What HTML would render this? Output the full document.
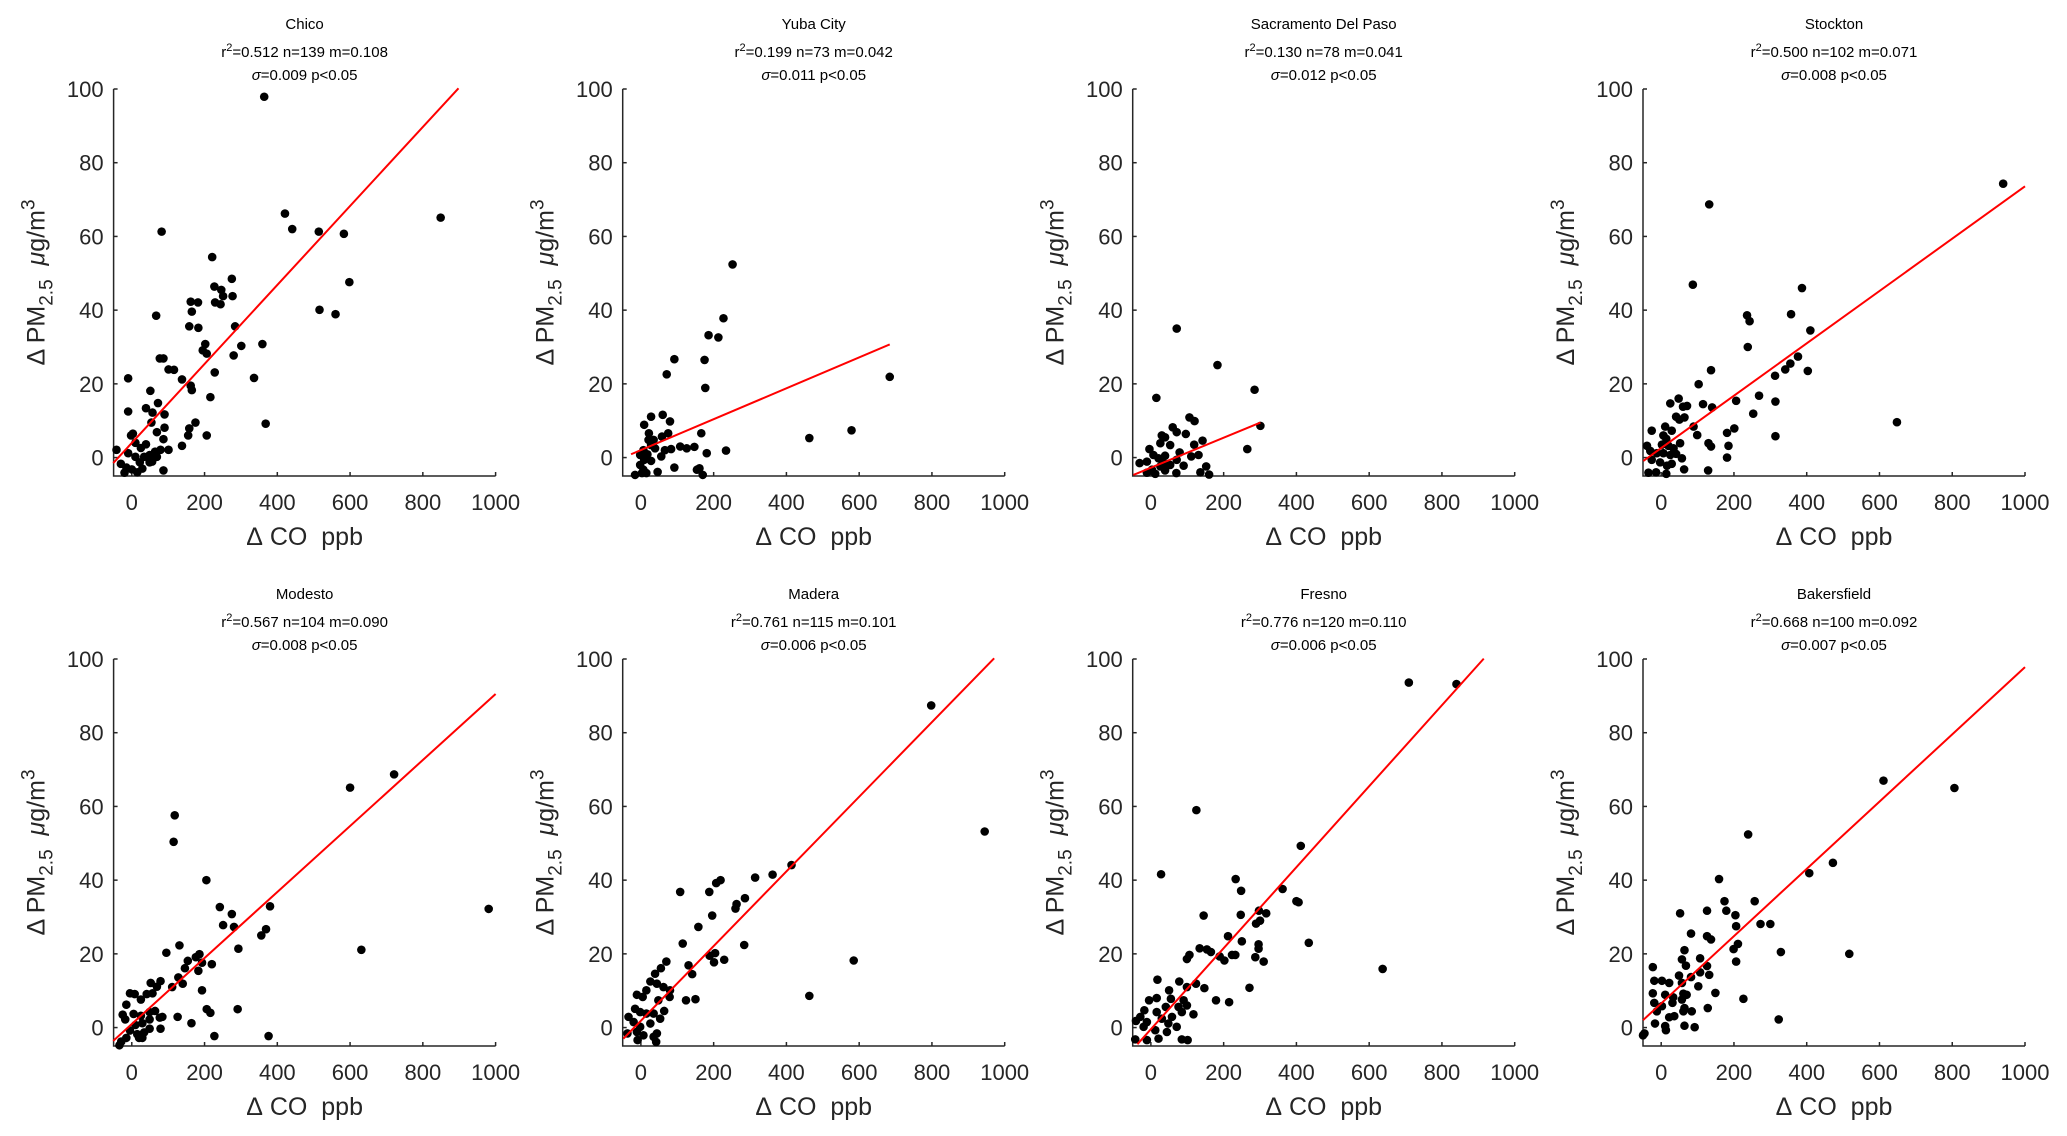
<!DOCTYPE html>
<html><head><meta charset="utf-8"><style>
html,body{margin:0;padding:0;background:#fff;}
svg{display:block;font-family:"Liberation Sans",Arial,sans-serif;}
</style></head><body>
<svg id="fig" width="2067" height="1136" viewBox="0 0 2067 1136" xmlns="http://www.w3.org/2000/svg"></svg>
<script>
const siteNames=["Chico","Yuba City","Sacramento Del Paso","Stockton","Modesto","Madera","Fresno","Bakersfield"];
const statLine1=["0.512 n=139 m=0.108","0.199 n=73 m=0.042","0.130 n=78 m=0.041","0.500 n=102 m=0.071","0.567 n=104 m=0.090","0.761 n=115 m=0.101","0.776 n=120 m=0.110","0.668 n=100 m=0.092"];
const statLine2=["0.009","0.011","0.012","0.008","0.008","0.006","0.006","0.007"];
const xTicks=[0,200,400,600,800,1000];
const yTicks=[0,20,40,60,80,100];
const fitX=[[-51,898],[-27,684],[-48,301],[-49,1000],[-51,1000],[-48,971],[-37,915],[-50,1000]];
const fitY=[[-1.5,100.2],[0.9,30.7],[-4.7,9.5],[-0.9,73.6],[-3.6,90.5],[-3,100.2],[-4.5,100.1],[2,97.8]];
const chicoX=[364,421,441,514,583,849,598,516,560,82,221,275,277,227,246,251,229,244,162,182,165,158,183,284,301,359,202,195,206,280,67,77,87,101,116,138,162,165,336,228,216,175,158,155,206,368,138,-10,-10,51,72,39,57,90,69,90,87,-2,3,54,79,101,87,-42,10,25,39,49,34,10,-10,22,49,64,69,-30,-15,0,-20,15,29,56];
const chicoY=[97.9,66.2,62,61.3,60.7,65.1,47.6,40.1,38.9,61.3,54.4,48.5,43.8,46.4,45.5,43.8,42.1,41.6,42.3,42.1,39.6,35.6,35.2,35.6,30.3,30.8,30.8,29.1,28.2,27.7,38.5,26.9,26.9,23.9,23.8,21.2,19.5,18.3,21.6,23.1,16.4,9.5,7.9,6,6,9.2,3.2,21.5,12.5,18.1,14.8,13.4,12.2,11.7,6.9,8.1,5,6,6.5,9.5,2.1,2.1,-3.5,2.1,4,2.6,3.6,0.7,0.2,0.2,1.2,-1.3,-1.3,1.6,0.2,-1.7,-2.7,-3.2,-4.1,-4,-3,-1.1];
const yubaX=[252,227,186,213,92,71,175,177,684,463,579,234,181,166,147,126,108,83,66,56,92,46,154,170,161,28,60,9,22,80,75,58,35,21,28,39,7,-2,9,28,-2,7,-16,3,15,18];
const yubaY=[52.4,37.8,33.2,32.6,26.7,22.6,26.5,18.9,21.9,5.3,7.4,1.9,1.2,6.6,2.9,2.5,3,2.3,2,0.3,-2.7,-3.9,-3.3,-4.7,-2.9,11.1,11.6,8.9,6.6,9.8,6.6,5.7,4.8,4.8,3.4,2.5,2,0.7,-0.6,-0.9,-2,-3.3,-4.7,-4.2,-4.2,0.9];
const sacX=[71,183,285,15,301,265,106,120,96,60,71,30,39,53,-4,26,119,142,131,111,79,-31,-11,7,21,39,35,53,71,90,-11,12,39,70,136,152,160,3,26];
const sacY=[35,25.1,18.4,16.2,8.6,2.3,10.9,9.9,6.4,8.2,6.9,6,5.5,3.4,2.3,3.9,3.5,4.6,0.7,0.3,1.4,-1.5,-1.1,0.7,-0.2,0.5,-1.5,-2,-0.6,-2.2,-4.1,-4.4,-3.5,-4.2,-4,-2.4,-4.6,-3.3,-2.4];
const stockX=[940,132,87,387,236,243,357,410,238,376,355,341,403,313,137,103,206,269,314,253,314,648,201,181,185,181,130,137,129,115,140,89,99,48,25,60,71,41,50,64,11,29,-26,6,14,52,2,20,34,-39,-30,-12,6,25,41,57,-26,-3,16,29,63,-35,-14,14];
const stockY=[74.3,68.7,46.9,46,38.6,37,38.9,34.5,30,27.4,25.5,23.9,23.5,22.2,23.7,19.9,15.4,16.8,15.2,11.9,5.8,9.6,7.9,6.7,3.2,0,3.9,3,-3.5,14.5,13.6,8.4,6.1,16,14.7,13.8,14,11.1,10.3,10.9,8.4,7.3,7.3,6,5.1,3.9,3.5,3.2,2.5,3.2,1.8,1.2,1.2,0.7,1,-0.2,-0.6,-1.3,-2.2,-1.7,-3.2,-4.1,-4,-4.4];
const modX=[981,721,600,631,380,369,356,293,291,376,227,118,115,205,242,275,251,281,131,95,111,128,140,146,154,176,186,183,193,220,193,206,216,126,164,79,69,52,57,41,25,8,-5,-15,-25,-18,5,25,49,64,49,29,10,-5,15,34,49,77,84,79,20,-15,-29,-34,29];
const modY=[32.2,68.7,65.1,21.1,32.9,26.7,25,21.4,5,-2.3,-2.3,57.6,50.4,40,32.7,30.8,27.8,27.3,22.3,20.3,11,13.6,11.9,16.1,18.1,19.1,19.9,15.4,17.6,17.2,10.1,5,4,2.9,1.2,12.6,11.1,12.1,9.3,9.1,7.6,9.1,9.3,6.2,3.5,2.2,3.7,3.2,4.2,4.5,2.2,1.2,0.7,-0.8,-1.8,-1.3,-0.3,2.7,2.9,-0.3,-2.8,-2.8,-3.8,-4.8,-2.8];
const maderaX=[798,945,414,362,314,219,207,286,263,260,196,188,108,158,115,284,189,204,201,229,585,463,131,141,124,150,70,55,39,26,15,-11,5,44,62,80,79,48,-16,-2,15,35,64,53,-34,-20,-2,26,-37,-11,7,35,-9,42,44];
const maderaY=[87.4,53.2,44.1,41.5,40.7,40,39.2,35.1,33.5,32.3,30.4,36.8,36.8,27.3,22.8,22.4,19.5,20.2,17.7,18.4,18.2,8.6,16.9,14.5,7.4,7.7,17.9,16.1,14.6,12.5,10.1,8.9,8.3,11.9,11,10.1,8.3,7.4,5.1,4.2,3.8,3.8,4.5,2.4,2.9,1.5,0.2,1.1,-1.6,-1.2,-2.1,-2.5,-3.4,-3.9,-1.6];
const fresnoX=[709,840,125,412,28,233,248,362,400,406,145,247,297,317,300,289,434,296,296,250,212,637,134,154,165,189,202,223,232,310,287,99,106,271,147,179,215,124,99,78,18,50,90,99,117,85,76,55,41,16,-5,-18,-29,-41,-11,16,30,48,71,58,-20,12,44,-43,-11,21,85,101];
const fresnoY=[93.6,93.2,59,49.3,41.6,40.3,37.1,37.6,34.3,34,30.4,30.6,31.7,31,29,28.2,23,22.6,21.4,23.4,24.8,15.9,21.5,21.2,20.5,19.3,18.2,19.7,19.7,17.9,19.1,18.6,19.7,10.8,10.7,7.4,6.9,11.9,11,12.5,13,10.1,7.4,6,3.6,4.2,5.6,7.8,5.6,8,7.4,4.7,2.9,1.8,1.5,4.2,2.4,1.1,0.2,2.9,0.2,-0.7,-1.2,-3.2,-3.4,-3,-3.2,-3.4];
const bakX=[611,806,239,472,407,159,174,257,179,126,52,204,206,273,300,82,126,137,211,199,329,517,64,107,206,57,68,-23,126,107,132,49,82,102,149,226,128,323,-19,2,22,57,-23,-19,11,33,61,70,57,31,2,-12,22,36,64,84,61,-17,11,13,64,92,-46,-50];
const bakY=[67,65,52.4,44.7,41.9,40.3,34.3,34.3,31.7,31.7,31,30.5,27.5,28.1,28.1,25.5,24.8,23.9,22.7,21.3,20.5,20,21,18.8,17.9,18.5,16.8,16.4,16.7,15,14.3,14.1,13.7,11.2,9.4,7.8,5.3,2.2,12.7,12.7,12.1,12.1,9.3,6.7,8.9,8.2,9.2,8.9,7.6,6.7,5.8,4.4,2.8,3.1,5.3,4.4,4.4,1.1,0.4,-0.7,0.5,0.1,-1.6,-2.1];
const seriesX=[chicoX,yubaX,sacX,stockX,modX,maderaX,fresnoX,bakX];
const seriesY=[chicoY,yubaY,sacY,stockY,modY,maderaY,fresnoY,bakY];

const NS="http://www.w3.org/2000/svg";
const svg=document.getElementById('fig');
const colLeft=[113.6,622.7,1132.7,1643];
const rowTop=[89,659];
const PW=382, PH=387, XMIN=-50, XMAX=1000, YMIN=-5, YMAX=100;
function mk(tag,attrs,parent){const e=document.createElementNS(NS,tag);for(const k in attrs)e.setAttribute(k,attrs[k]);(parent||svg).appendChild(e);return e;}
function slug(s){return s.toLowerCase().replace(/[^a-z0-9]+/g,'-');}

for(let p=0;p<8;p++){
  const L=colLeft[p%4], T=rowTop[Math.floor(p/4)], B=T+PH, R=L+PW;
  const sx=v=>L+(v-XMIN)/(XMAX-XMIN)*PW;
  const sy=v=>B-(v-YMIN)/(YMAX-YMIN)*PH;
  const s=slug(siteNames[p]);
  const g=mk('g',{});
  
  
  const cx=L+PW/2;
  const t1=mk('text',{x:cx,y:T-60,'text-anchor':'middle','font-size':15,fill:'#000'},g);
  t1.textContent=siteNames[p];
  
  
  const t2=mk('text',{x:cx,y:T-32,'text-anchor':'middle','font-size':15,fill:'#000'},g);
  t2.innerHTML='r<tspan dy="-6" font-size="11">2</tspan><tspan dy="6">='+statLine1[p]+'</tspan>';
  
  
  const t3=mk('text',{x:cx,y:T-9,'text-anchor':'middle','font-size':15,fill:'#000'},g);
  t3.innerHTML='<tspan font-style="italic">σ</tspan>='+statLine2[p]+' p&lt;0.05';
  
  
  const ax=mk('path',{d:`M${L},${T}V${B}H${R}`,fill:'none',stroke:'#262626','stroke-width':1.5},g);
  
  
  for(const v of xTicks){
    const x=sx(v);
    mk('line',{x1:x,y1:B,x2:x,y2:B-4,stroke:'#262626','stroke-width':1.5},g);
    const tl=mk('text',{x:x,y:B+34,'text-anchor':'middle','font-size':22,fill:'#262626'},g);
    tl.textContent=v;
    
    
  }
  for(const v of yTicks){
    const y=sy(v);
    mk('line',{x1:L,y1:y,x2:L+4,y2:y,stroke:'#262626','stroke-width':1.5},g);
    const tl=mk('text',{x:L-10,y:y+8,'text-anchor':'end','font-size':22,fill:'#262626'},g);
    tl.textContent=v;
    
    
  }
  const xl=mk('text',{x:cx,y:B+69,'text-anchor':'middle','font-size':25,fill:'#262626'},g);
  xl.textContent='Δ\u00a0CO\u00a0\u00a0ppb';
  
  
  const yl=mk('text',{x:0,y:0,'text-anchor':'middle','font-size':25,fill:'#262626',transform:`translate(${L-69},${(T+B)/2}) rotate(-90)`},g);
  yl.innerHTML='Δ PM<tspan dy="8" font-size="19">2.5</tspan><tspan dy="-8">\u00a0\u00a0</tspan><tspan font-style="italic">μ</tspan>g/m<tspan dy="-10" font-size="19">3</tspan>';
  
  
  const xs=seriesX[p], ys=seriesY[p];
  for(let i=0;i<xs.length;i++){
    const c=mk('circle',{cx:sx(xs[i]),cy:sy(ys[i]),r:4.3,fill:'#000'},g);
    
    
  }
  const fl=mk('line',{x1:sx(fitX[p][0]),y1:sy(fitY[p][0]),x2:sx(fitX[p][1]),y2:sy(fitY[p][1]),stroke:'#ff0000','stroke-width':2},g);
  
  
}
</script>
</body></html>
